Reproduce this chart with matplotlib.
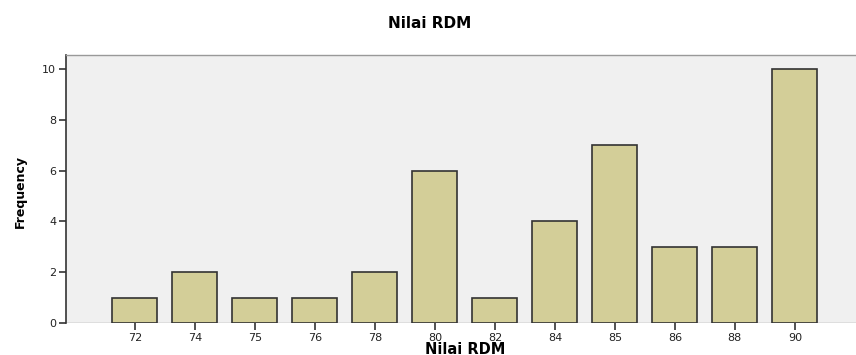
import matplotlib.pyplot as plt
import numpy as np

# data
categories = ['72', '74', '75', '76', '78', '80', '82', '84', '85', '86', '88', '90']
frequency = [1, 2, 1, 1, 2, 6, 1, 4, 7, 3, 3, 10]
y_ticks = [0, 2, 4, 6, 8, 10]

fig = plt.figure(figsize=(8.56, 3.55), dpi=100)
ax = fig.add_axes([66/856, 32/355, 1 - 66/856, (323 - 55)/355])
ax.set_facecolor('#f0f0f0')

x = np.arange(len(categories))
ax.bar(x, frequency, width=0.75, color='#d3ce98', edgecolor='#333333', linewidth=1.2, zorder=2)

ax.set_xlim(-1.15, 12.02)
ax.set_ylim(0, 10.55)
ax.set_xticks(x)
ax.set_xticklabels(categories)
ax.set_yticks(y_ticks)

for s in ['right', 'bottom']:
    ax.spines[s].set_visible(False)
ax.spines['left'].set_color('#333333')
ax.spines['left'].set_linewidth(1.2)
ax.spines['top'].set_color('#999999')
ax.spines['top'].set_linewidth(1.0)
ax.axhline(0, color='#999999', linewidth=1.0, zorder=1)

ax.tick_params(axis='both', labelsize=8, colors='#333333', labelcolor='#222222',
               length=5, width=1.2, pad=2)

# titles
fig.text(430/856, 1 - 23/355, 'Nilai RDM', ha='center', va='center', fontsize=11, fontweight='bold')
fig.text(465/856, 1.5/355, 'Nilai RDM', ha='center', va='baseline', fontsize=10.5, fontweight='bold')
fig.text(20/856, 1 - 192/355, 'Frequency', ha='center', va='center', rotation=90,
         fontsize=9, fontweight='bold', family=['Liberation Sans Narrow', 'DejaVu Sans'])

fig.savefig('out.png', dpi=100)
